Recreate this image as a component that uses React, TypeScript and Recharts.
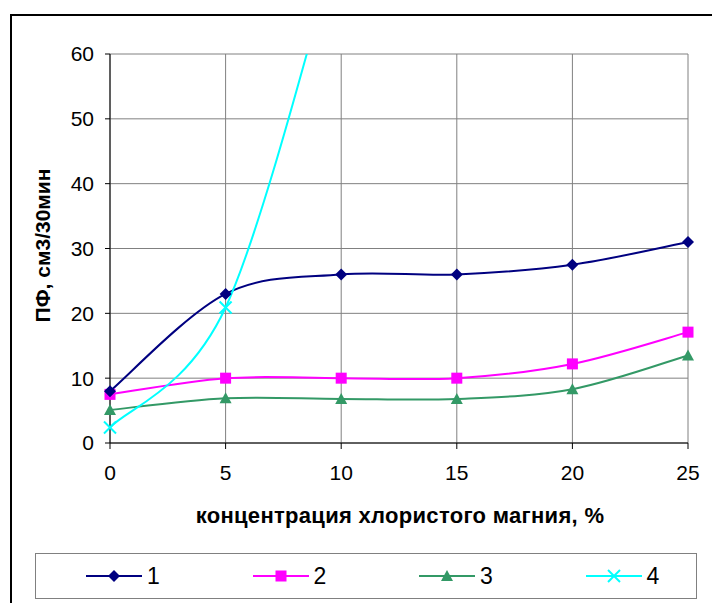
import React from 'react';
import { CartesianGrid, Line, LineChart, XAxis, YAxis } from 'recharts';

// концентрация хлористого магния, %
const concentrations = [0, 5, 10, 15, 20, 25];

// ПФ, см3/30мин for each sample
const series1 = [8, 23, 26, 26, 27.5, 31];
const series2 = [7.5, 10, 10, 10, 12.2, 17.1];
const series3 = [5.1, 6.9, 6.8, 6.8, 8.3, 13.5];
// sample 4 climbs past the top of the scale after 5 %
const series4: (number | null)[] = [2.4, 20.9, 79, null, null, null];

const xTicks = [0, 5, 10, 15, 20, 25];
const yTicks = [0, 10, 20, 30, 40, 50, 60];
const seriesNames = ['1', '2', '3', '4'];

const COLORS = {
    s1: '#000080',
    s2: '#FF00FF',
    s3: '#339966',
    s4: '#00FFFF',
};

const FONT = 'Arial, "Liberation Sans", sans-serif';

const data = concentrations.map((c, i) => ({
    c,
    s1: series1[i],
    s2: series2[i],
    s3: series3[i],
    s4: series4[i],
}));

// Catmull-Rom style smoothing (tangent = neighbour difference / 6), ends doubled
function smoothCurve(context: any) {
    let pts: [number, number][] = [];
    return {
        areaStart() {},
        areaEnd() {},
        lineStart() {
            pts = [];
        },
        point(x: number, y: number) {
            pts.push([+x, +y]);
        },
        lineEnd() {
            if (pts.length === 0) return;
            context.moveTo(pts[0][0], pts[0][1]);
            if (pts.length === 1) return;
            for (let i = 0; i < pts.length - 1; i++) {
                const p0 = pts[Math.max(i - 1, 0)];
                const p1 = pts[i];
                const p2 = pts[i + 1];
                const p3 = pts[Math.min(i + 2, pts.length - 1)];
                context.bezierCurveTo(
                    p1[0] + (p2[0] - p0[0]) / 6,
                    p1[1] + (p2[1] - p0[1]) / 6,
                    p2[0] - (p3[0] - p1[0]) / 6,
                    p2[1] - (p3[1] - p1[1]) / 6,
                    p2[0],
                    p2[1],
                );
            }
        },
    };
}

type Marker = 'diamond' | 'square' | 'triangle' | 'cross';

function MarkerShape({ kind, cx, cy, color, size = 6 }: { kind: Marker; cx: number; cy: number; color: string; size?: number }) {
    if (kind === 'diamond') {
        return <polygon points={`${cx},${cy - size} ${cx + size},${cy} ${cx},${cy + size} ${cx - size},${cy}`} fill={color} />;
    }
    if (kind === 'square') {
        return <rect x={cx - size + 0.5} y={cy - size + 0.5} width={2 * size - 1} height={2 * size - 1} fill={color} />;
    }
    if (kind === 'triangle') {
        return <polygon points={`${cx},${cy - size} ${cx + size},${cy + size - 1} ${cx - size},${cy + size - 1}`} fill={color} />;
    }
    return (
        <g stroke={color} strokeWidth={2}>
            <line x1={cx - size} y1={cy - size} x2={cx + size} y2={cy + size} />
            <line x1={cx - size} y1={cy + size} x2={cx + size} y2={cy - size} />
        </g>
    );
}

function makeDot(kind: Marker, color: string) {
    return (props: any) => {
        const { cx, cy, index } = props;
        if (cx == null || cy == null || Number.isNaN(cy)) {
            return <g key={`${kind}-${index}`} />;
        }
        return (
            <g key={`${kind}-${index}`}>
                <MarkerShape kind={kind} cx={cx} cy={cy} color={color} />
            </g>
        );
    };
}

const legendItems: { name: string; kind: Marker; color: string }[] = [
    { name: seriesNames[0], kind: 'diamond', color: COLORS.s1 },
    { name: seriesNames[1], kind: 'square', color: COLORS.s2 },
    { name: seriesNames[2], kind: 'triangle', color: COLORS.s3 },
    { name: seriesNames[3], kind: 'cross', color: COLORS.s4 },
];

function ChartLegend() {
    return (
        <div
            style={{
                position: 'absolute',
                left: 35,
                top: 553,
                width: 662,
                height: 46,
                border: '1px solid #808080',
                boxSizing: 'border-box',
                fontFamily: FONT,
                fontSize: 23,
            }}
        >
            {legendItems.map((item, i) => (
                <div key={item.name} style={{ position: 'absolute', left: 50 + i * 166.5, top: 0, height: 44, display: 'flex', alignItems: 'center' }}>
                    <svg width={56} height={20} style={{ display: 'block' }}>
                        <line x1={0} y1={10} x2={56} y2={10} stroke={item.color} strokeWidth={2} />
                        <MarkerShape kind={item.kind} cx={28} cy={10} color={item.color} />
                    </svg>
                    <span style={{ marginLeft: 5 }}>{item.name}</span>
                </div>
            ))}
        </div>
    );
}

export default function App() {
    return (
        <div style={{ position: 'absolute', left: 0, top: 0, width: 712, height: 603, overflow: 'hidden', background: '#fff' }}>
            <div
                style={{
                    position: 'absolute',
                    left: 10,
                    top: 14,
                    width: 720,
                    height: 620,
                    border: '2px solid #000',
                    boxSizing: 'border-box',
                }}
            />
            <div style={{ position: 'absolute', left: 0, top: 0 }}>
                <LineChart width={712} height={540} data={data} margin={{ top: 54, right: 24, left: 20, bottom: 7 }}>
                    <CartesianGrid stroke="#808080" strokeWidth={1} />
                    <XAxis
                        dataKey="c"
                        type="number"
                        domain={[0, 25]}
                        ticks={xTicks}
                        stroke="#000"
                        tickSize={6}
                        tickMargin={16}
                        height={90}
                        tick={{ fill: '#000', fontSize: 21, fontFamily: FONT }}
                        label={(props: any) => {
                            const vb = props.viewBox;
                            return (
                                <text
                                    x={vb.x + vb.width / 2 + 1}
                                    y={vb.y + 80}
                                    textAnchor="middle"
                                    fontFamily={FONT}
                                    fontSize={22}
                                    fontWeight="bold"
                                    letterSpacing={0.3}
                                    fill="#000"
                                >
                                    концентрация хлористого магния, %
                                </text>
                            );
                        }}
                    />
                    <YAxis
                        type="number"
                        domain={[0, 60]}
                        ticks={yTicks}
                        allowDataOverflow
                        stroke="#000"
                        tickSize={5}
                        tickMargin={11}
                        width={90}
                        tick={{ fill: '#000', fontSize: 21, fontFamily: FONT }}
                        label={(props: any) => {
                            const vb = props.viewBox;
                            const cx = 50;
                            const cy = vb.y + vb.height / 2 - 3;
                            return (
                                <text
                                    x={cx}
                                    y={cy}
                                    transform={`rotate(-90 ${cx} ${cy})`}
                                    textAnchor="middle"
                                    fontFamily={FONT}
                                    fontSize={21}
                                    fontWeight="bold"
                                    fill="#000"
                                >
                                    ПФ, см3/30мин
                                </text>
                            );
                        }}
                    />
                    <Line type={smoothCurve as any} dataKey="s3" stroke={COLORS.s3} strokeWidth={2} dot={makeDot('triangle', COLORS.s3)} isAnimationActive={false} />
                    <Line type={smoothCurve as any} dataKey="s2" stroke={COLORS.s2} strokeWidth={2} dot={makeDot('square', COLORS.s2)} isAnimationActive={false} />
                    <Line type={smoothCurve as any} dataKey="s1" stroke={COLORS.s1} strokeWidth={2} dot={makeDot('diamond', COLORS.s1)} isAnimationActive={false} />
                    <Line type={smoothCurve as any} dataKey="s4" stroke={COLORS.s4} strokeWidth={2} dot={makeDot('cross', COLORS.s4)} isAnimationActive={false} />
                </LineChart>
            </div>
            <ChartLegend />
        </div>
    );
}
